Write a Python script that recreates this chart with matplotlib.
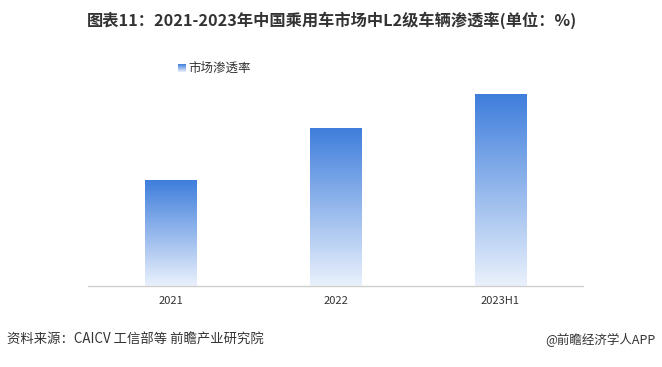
import matplotlib
matplotlib.use("Agg")
import matplotlib.pyplot as plt
import numpy as np
from matplotlib.colors import LinearSegmentedColormap

plt.rcParams['font.family'] = ['Noto Sans CJK SC', 'DejaVu Sans']

categories = ["2021", "2022", "2023H1"]
values = [23.4, 34.8, 42.4]
series_name = "市场渗透率"
title = "图表11：2021-2023年中国乘用车市场中L2级车辆渗透率(单位：%)"
source = "资料来源：CAICV 工信部等 前瞻产业研究院"
credit = "@前瞻经济学人APP"

top_c = "#3F7EDC"
bot_c = "#EAF1FC"
cmap = LinearSegmentedColormap.from_list("g", [bot_c, top_c])

fig = plt.figure(figsize=(6.62, 3.67), dpi=100)
ax = fig.add_axes([88/662, 81/367, 495/662, 226.4/367])
x = np.arange(len(categories))
bars = ax.bar(x, values, width=0.31, color="none", edgecolor="none")
grad = np.linspace(0, 1, 256).reshape(-1, 1)
for b in bars:
    x0, y0 = b.get_x(), b.get_y()
    w, h = b.get_width(), b.get_height()
    im = ax.imshow(grad, cmap=cmap, origin="lower", aspect="auto",
                   extent=[x0, x0 + w, y0, y0 + h], zorder=2)
    im.set_clip_path(b)

ax.set_xlim(-0.5, 2.5)
ax.set_ylim(0, 50)
ax.set_xticks(x)
ax.set_xticklabels(categories, fontsize=8, color="#333333")
ax.tick_params(axis="x", length=0, pad=7)
ax.set_yticks([])
for s in ["top", "right", "left"]:
    ax.spines[s].set_visible(False)
ax.spines["bottom"].set_color("#D0D0D0")
ax.spines["bottom"].set_linewidth(1.0)

# legend
lax = fig.add_axes([178/662, 1 - 72/367, 8/662, 8/367])
lax.imshow(grad, cmap=cmap, origin="lower", aspect="auto")
lax.axis("off")
fig.text(188/662, 1 - 68/367, series_name, fontsize=9, color="#333333", va="center", ha="left")

fig.text(332/662, 1 - 20/367, title, fontsize=11.7, fontweight="bold", color="#333333",
         ha="center", va="center")
fig.text(7/662, 1 - 340/367, source, fontsize=9.6, color="#333333", ha="left", va="center")
fig.text(655/662, 1 - 340/367, credit, fontsize=9, color="#333333", ha="right", va="center")

fig.savefig("out.png", dpi=100)
